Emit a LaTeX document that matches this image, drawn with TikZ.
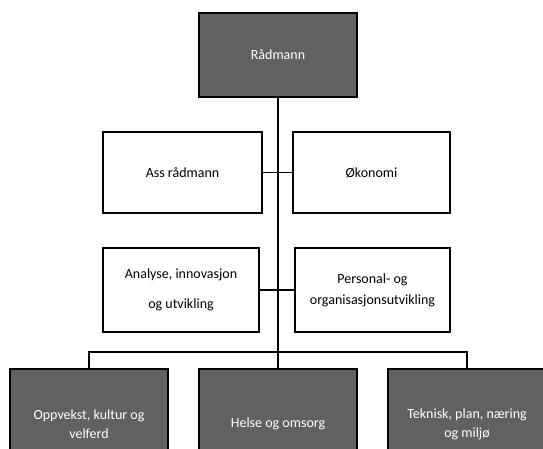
\documentclass[tikz,border=0pt]{standalone}
\usepackage{fontspec}
\setmainfont{Carlito}
\begin{document}
\begin{tikzpicture}[x=1pt,y=-1pt,
  box/.style={draw=black, line width=1.6pt, fill=white, text=black, align=center,
    font=\fontsize{14}{21}\selectfont, inner sep=0pt, minimum width=158pt},
  dark/.style={box, fill=black!62, text=white, font=\fontsize{14}{19}\selectfont},
  conn/.style={draw=black, line width=1.4pt}]
\path[use as bounding box] (0,0) rectangle (543,448);
\clip (0,0) rectangle (543,448);
% nodes
\node[dark, minimum height=84pt] (rad) at (278,55) {Rådmann};
\node[box, minimum width=159pt, minimum height=81pt] (ass) at (182.5,172.5) {Ass rådmann};
\node[box, minimum width=157pt, minimum height=81pt] (oko) at (371.5,172.5) {Økonomi};
\node[box, minimum width=156pt, minimum height=84pt] (ana) at (181,290) {Analyse, innovasjon\\[9pt]og utvikling};
\node[box, minimum width=155pt, minimum height=84pt] (per) at (372.5,290) {Personal- og\\organisasjonsutvikling};
\node[dark, minimum height=110pt] (opp) at (89,424) {Oppvekst, kultur og\\velferd};
\node[dark, minimum height=110pt] (hel) at (278,424) {Helse og omsorg};
\node[dark, minimum height=110pt] (tek) at (467,424) {Teknisk, plan, næring\\og miljø};
\coordinate (hub) at (278,352);
% connectors
\draw[conn] (rad.south) -- (hub) -- (hel.north);
\draw[conn] (ass.east) -- (ass.east -| rad.south);
\draw[conn] (oko.west) -- (oko.west -| rad.south);
\draw[conn] (ana.east) -- (ana.east -| rad.south);
\draw[conn] (per.west) -- (per.west -| rad.south);
\draw[conn] (opp.north) |- (hub) -| (tek.north);
\end{tikzpicture}
\end{document}
